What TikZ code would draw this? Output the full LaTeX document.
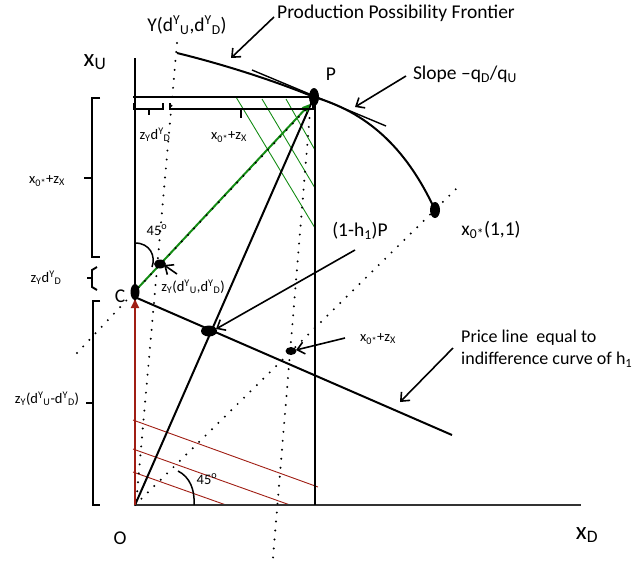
\documentclass[tikz,border=0pt]{standalone}
\usepackage{fontspec}
\setmainfont{Carlito}
\usetikzlibrary{arrows.meta}
\definecolor{dkred}{RGB}{160,30,20}
\definecolor{grn}{RGB}{20,140,20}
\begin{document}
\begin{tikzpicture}[x=1pt,y=-1pt,
  mainline/.style={line width=2pt,black},
  thinline/.style={line width=1.4pt,black},
  dotline/.style={line width=2.2pt,dash pattern=on 0pt off 9pt,line cap=round},
  redline/.style={line width=0.9pt,dkred},
  grnline/.style={line width=0.9pt,grn},
  lblarrow/.style={line width=1.6pt,-{Straight Barb[length=7pt,width=12pt]}},
  brk/.style={line width=1.9pt},
  lbl/.style={inner sep=0pt,font=\fontsize{19.5}{23}\selectfont},
  small/.style={inner sep=0pt,font=\fontsize{14.5}{17}\selectfont},
  big/.style={inner sep=0pt,font=\fontsize{25}{29}\selectfont},
  dotfill/.style={fill=black}
]
\useasboundingbox (0,0) rectangle (642,563);
% coordinates
\coordinate (O) at (135,505);
\coordinate (yTop) at (135,58);
\coordinate (xEnd) at (581,505);
\coordinate (P) at (314,97);
\coordinate (L) at (133,97);
\coordinate (Pv) at (315,97);
\coordinate (Pb) at (315,505);
\coordinate (Y) at (177,53);
\coordinate (YdT) at (177,43);
\coordinate (YdB) at (136,505);
\coordinate (X0) at (435,210);
\coordinate (Dend) at (456,189);
\coordinate (C) at (135,292);
\coordinate (Cdl) at (77,353);
\coordinate (CPend) at (312,103);
\coordinate (Gs) at (137,289);
\coordinate (Ge) at (310,104);
\coordinate (VdT) at (311,100);
\coordinate (VdB) at (273,558);
\coordinate (T1) at (252,70);
\coordinate (T2) at (386,126);
\coordinate (Pr1) at (137,298);
\coordinate (Pr2) at (452,435);
\coordinate (H) at (209,331);
\coordinate (Z) at (160,264);
\coordinate (W) at (291,351);
\coordinate (Rs) at (135,505);
\coordinate (Re) at (135,299);
% red thin lines
\coordinate (r1a) at (133,420); \coordinate (r1b) at (318,487);
\coordinate (r2a) at (133,449); \coordinate (r2b) at (290,505);
\coordinate (r3a) at (133,472); \coordinate (r3b) at (226,505);
\draw[redline] (r1a) -- (r1b);
\draw[redline] (r2a) -- (r2b);
\draw[redline] (r3a) -- (r3b);
% green thin lines
\coordinate (g1a) at (236,97); \coordinate (g1b) at (315,228);
\coordinate (g2a) at (262,99); \coordinate (g2b) at (315,188);
\coordinate (g3a) at (286,99); \coordinate (g3b) at (315,150);
\draw[grnline] (g1a) -- (g1b);
\draw[grnline] (g2a) -- (g2b);
\draw[grnline] (g3a) -- (g3b);
% axes
\draw[line width=1.4pt] (yTop) -- (O);
\draw[line width=2pt,black!80] (O) -- (xEnd);
% frame lines
\draw[mainline] (L) -- (P);
\draw[mainline] (Pv) -- (Pb);
% PPF
\draw[mainline] (Y) .. controls (230,66) and (280,83) .. (P)
  .. controls (365,112) and (405,145) .. (X0);
% tangent
\draw[thinline] (T1) -- (T2);
% O to P
\draw[mainline] (O) -- (P);
% price line
\draw[mainline] (Pr1) -- (Pr2);
% green arrow
\draw[line width=2pt,grn,-{Triangle[length=8pt,width=7pt]}] (Gs) -- (Ge);
% dotted lines
\draw[dotline] (YdT) -- (YdB);
\draw[dotline] (O) -- (Dend);
\draw[dotline] (Cdl) -- (CPend);
\draw[dotline] (VdT) -- (VdB);
% red arrow
\draw[line width=2pt,dkred,-{Triangle[length=9pt,width=8pt]}] (Rs) -- (Re);
% angle arcs
\coordinate (a1s) at (135,243); \coordinate (a1e) at (152,267);
\draw[line width=1.5pt] (a1s) .. controls (150,243) and (156,256) .. (a1e);
\coordinate (a2s) at (178,471); \coordinate (a2e) at (194,505);
\draw[line width=1.5pt] (a2s) .. controls (190,477) and (195,490) .. (a2e);
% dots
\fill[dotfill] (P) ellipse (5 and 9);
\fill[dotfill] (X0) ellipse (5 and 8);
\fill[dotfill] (H) ellipse (8 and 5.5);
\fill[dotfill] (Z) ellipse (6 and 4.5);
\fill[dotfill] (C) ellipse (4.5 and 8);
\fill[dotfill] (W) ellipse (5.5 and 4);
% brackets top
\draw[brk] (134,103) -- (134,109) -- (163,109) -- (163,103);
\draw[brk] (149,109) -- (149,115);
\draw[brk] (170,103) -- (170,109) -- (313,109) -- (313,103);
\draw[brk] (241,109) -- (241,118);
% brackets left
\draw[brk] (100,98) -- (92,98) -- (92,257) -- (100,257);
\draw[brk] (84,178) -- (92,178);
\draw[brk] (97,267) -- (92,270) -- (92,287) -- (97,290);
\draw[brk] (87,278) -- (92,278);
\draw[brk] (100,301) -- (93,301) -- (93,505) -- (100,505);
\draw[brk] (86,403) -- (93,403);
% labels
\node[lbl] (ppf) at (396,13) {Production Possibility Frontier};
\node[lbl] (ylab) at (187,25) {Y(d\textsuperscript{Y}\textsubscript{U},d\textsuperscript{Y}\textsubscript{D})};
\node[big] (xu) at (95,62) {x\textsubscript{U}};
\node[lbl] (plab) at (331,74) {P};
\node[lbl] (slope) at (465,74) {Slope –q\textsubscript{D}/q\textsubscript{U}};
\node[lbl] (x0lab) at (491,230) {x\textsubscript{0*}(1,1)};
\node[lbl] (hlab) at (360,231) {(1-h\textsubscript{1})P};
\node[small] (xzlab) at (378,339) {x\textsubscript{0*}+z\textsubscript{X}};
\node[inner sep=0pt,font=\fontsize{18}{22}\selectfont,anchor=west,align=left] (price) at (461,349) {Price line \ equal to\\indifference curve of h\textsubscript{1}};
\node[small] (zylab) at (193,287) {z\textsubscript{Y}(d\textsuperscript{Y}\textsubscript{U},d\textsuperscript{Y}\textsubscript{D})};
\node[small] (a1lab) at (157,230) {45\textsuperscript{o}};
\node[small] (a2lab) at (207,479) {45\textsuperscript{o}};
\node[lbl] (clab) at (120,296) {C};
\node[lbl] (olab) at (120,538) {O};
\node[big] (xd) at (587,535) {x\textsubscript{D}};
\node[small] (t1lab) at (155,135) {z\textsubscript{Y}d\textsuperscript{Y}\textsubscript{D}};
\node[small] (t2lab) at (229,137) {x\textsubscript{0*}+z\textsubscript{X}};
\node[small] (l1lab) at (47,181) {x\textsubscript{0*}+z\textsubscript{X}};
\node[small] (l2lab) at (46,278) {z\textsubscript{Y}d\textsuperscript{Y}\textsubscript{D}};
\node[small] (l3lab) at (47,399) {z\textsubscript{Y}(d\textsuperscript{Y}\textsubscript{U}-d\textsuperscript{Y}\textsubscript{D})};
% label arrows
\coordinate (pa1) at (274,17); \coordinate (pa2) at (231,58);
\draw[lblarrow] (pa1) -- (pa2);
\coordinate (sa1) at (406,76); \coordinate (sa2) at (355,107);
\draw[lblarrow] (sa1) -- (sa2);
\coordinate (ha1) at (355,250); \coordinate (ha2) at (216,329);
\draw[lblarrow] (ha1) -- (ha2);
\coordinate (za1) at (177,274); \coordinate (za2) at (164,265);
\draw[lblarrow] (za1) -- (za2);
\coordinate (wa1) at (345,338); \coordinate (wa2) at (296,350);
\draw[lblarrow] (wa1) -- (wa2);
\coordinate (qa1) at (453,348); \coordinate (qa2) at (400,402);
\draw[lblarrow] (qa1) -- (qa2);
\end{tikzpicture}
\end{document}
